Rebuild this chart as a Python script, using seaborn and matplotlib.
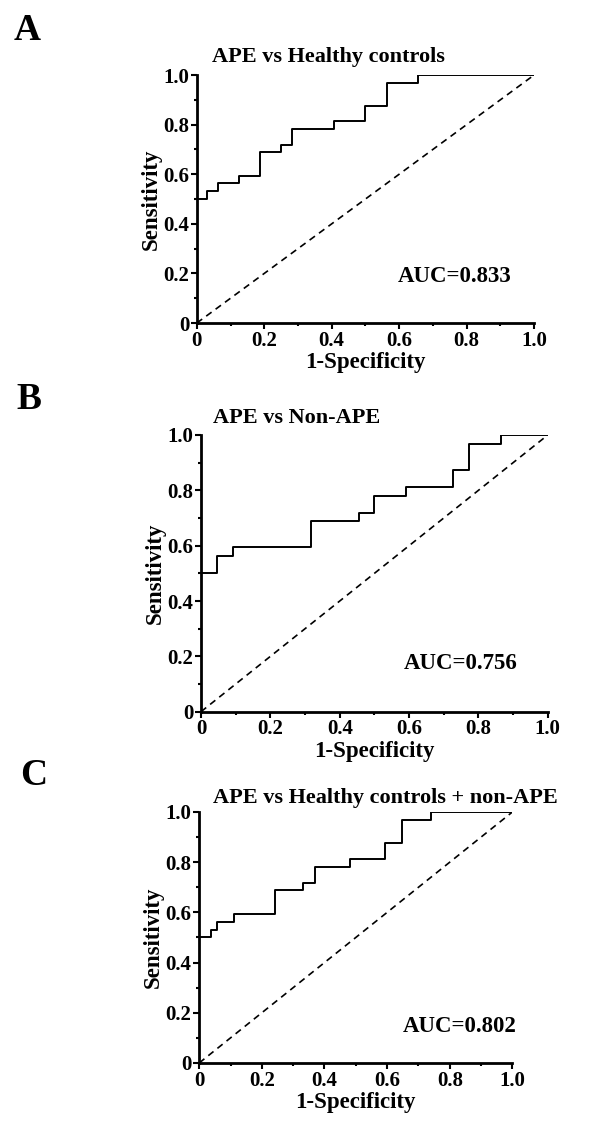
import numpy as np
import pandas as pd
import matplotlib
matplotlib.use('Agg')
import matplotlib.pyplot as plt
import seaborn as sns
from matplotlib.ticker import MultipleLocator

# valores (curvas ROC em degraus)
a_fpr = [0, 0.031, 0.063, 0.125, 0.188, 0.25, 0.281, 0.406, 0.5, 0.563, 0.656, 1.0]
a_tpr = [0.5, 0.531, 0.563, 0.594, 0.688, 0.719, 0.781, 0.813, 0.875, 0.969, 1.0, 1.0]

b_fpr = [0, 0.045, 0.091, 0.318, 0.455, 0.5, 0.591, 0.727, 0.773, 0.864, 1.0]
b_tpr = [0.5, 0.563, 0.594, 0.688, 0.719, 0.781, 0.813, 0.875, 0.969, 1.0, 1.0]

c_fpr = [0, 0.037, 0.056, 0.111, 0.241, 0.333, 0.370, 0.481, 0.593, 0.648, 0.741, 1.0]
c_tpr = [0.5, 0.531, 0.563, 0.594, 0.688, 0.719, 0.781, 0.813, 0.875, 0.969, 1.0, 1.0]

diag = [0, 1]

titulos = ['APE vs Healthy controls', 'APE vs Non-APE', 'APE vs Healthy controls + non-APE']
aucs = ['AUC=0.833', 'AUC=0.756', 'AUC=0.802']
letras = ['A', 'B', 'C']
ticks = [0, 0.2, 0.4, 0.6, 0.8, 1.0]
tick_labels = ['0', '0.2', '0.4', '0.6', '0.8', '1.0']

sns.set_style('ticks', {'axes.edgecolor': 'black', 'text.color': 'black',
                        'axes.labelcolor': 'black', 'xtick.color': 'black',
                        'ytick.color': 'black'})
plt.rcParams['font.family'] = ['Liberation Serif', 'DejaVu Serif']
plt.rcParams['font.weight'] = 'bold'

fig = plt.figure(figsize=(6, 11.24), dpi=100)

# posicoes dos eixos (fracao da figura)
rects = [[0.328, 0.7126, 0.562, 0.2206],
         [0.335, 0.3668, 0.578, 0.2462],
         [0.332, 0.0543, 0.522, 0.2233]]
titulo_pos = [(0.044, 1.052), (0.035, 1.043), (0.045, 1.036)]
auc_pos = [(0.934, 0.187), (0.913, 0.175), (1.015, 0.145)]
letra_pos = [(0.022, 0.973), (0.028, 0.645), (0.034, 0.31)]

curvas = [(a_fpr, a_tpr), (b_fpr, b_tpr), (c_fpr, c_tpr)]

for i in range(3):
    ax = fig.add_axes(rects[i])
    fpr, tpr = curvas[i]
    df = pd.DataFrame({'fpr': fpr, 'tpr': tpr})
    sns.lineplot(data=df, x='fpr', y='tpr', ax=ax, sort=False, estimator=None,
                 drawstyle='steps-post', color='black', linewidth=1.4)
    sns.lineplot(x=diag, y=diag, ax=ax, color='black', linewidth=1.2,
                 linestyle=(0, (4, 3)))
    ax.set_xlim(0, 1)
    ax.set_ylim(0, 1)
    ax.set_xticks(ticks)
    ax.set_xticklabels(tick_labels)
    ax.set_yticks(ticks)
    ax.set_yticklabels(tick_labels)
    ax.xaxis.set_minor_locator(MultipleLocator(0.1))
    ax.yaxis.set_minor_locator(MultipleLocator(0.1))
    ax.tick_params(which='major', direction='out', length=4, width=1.5,
                   labelsize=15, pad=1.5, colors='black')
    ax.tick_params(which='minor', direction='out', length=2.5, width=1.5,
                   colors='black')
    for lab in ax.get_xticklabels() + ax.get_yticklabels():
        lab.set_fontweight('bold')
    for s in ['left', 'bottom']:
        ax.spines[s].set_linewidth(2)
        ax.spines[s].set_color('black')
    sns.despine(ax=ax)
    ax.set_xlabel('1-Specificity', fontsize=16.5, fontweight='bold', labelpad=1,
                  color='black')
    ax.set_ylabel('Sensitivity', fontsize=16.5, fontweight='bold', labelpad=1,
                  color='black')
    ax.text(titulo_pos[i][0], titulo_pos[i][1], titulos[i], transform=ax.transAxes,
            fontsize=16, fontweight='bold', ha='left', va='baseline', color='black')
    ax.text(auc_pos[i][0], auc_pos[i][1], aucs[i], transform=ax.transAxes,
            fontsize=16.5, fontweight='bold', ha='right', va='center', color='black')
    fig.text(letra_pos[i][0], letra_pos[i][1], letras[i], fontsize=27,
             fontweight='bold', ha='left', va='center', color='black')

plt.savefig('out.png', dpi=100)
